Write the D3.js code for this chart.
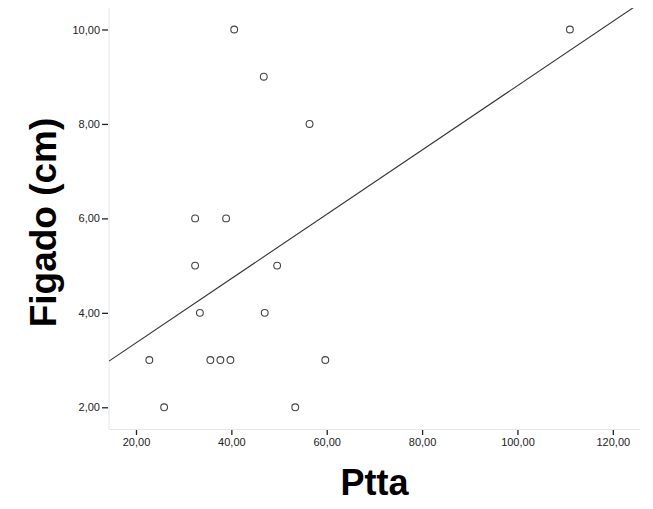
<!DOCTYPE html>
<html>
<head>
<meta charset="utf-8">
<script src="https://cdn.jsdelivr.net/npm/d3@7"></script>
<style>
  html, body { margin: 0; padding: 0; background: #fff; }
  svg { display: block; }
</style>
</head>
<body>
<svg id="chart" width="653" height="509"></svg>
<script>
// Ptta vs Figado (cm) observations
const ptta   = [22.8, 25.9, 33.4, 35.6, 37.7, 39.8, 47.0, 59.7, 53.4, 32.4, 32.4, 38.9, 40.6, 46.8, 56.4, 49.6, 111.0];
const figado = [3,    2,    4,    3,    3,    3,    4,    3,    2,    6,    5,    6,    10,   9,    8,    5,    10];
const xTicks = [20, 40, 60, 80, 100, 120];
const yTicks = [2, 4, 6, 8, 10];

const svg = d3.select("#chart");
const plotLeft = 109, plotRight = 640, plotTop = 8, plotBottom = 429;

const x = d3.scaleLinear().domain([14.34, 125.7]).range([plotLeft, plotRight]);
const y = d3.scaleLinear().domain([1.54, 10.455]).range([plotBottom, plotTop]);
const fmt = v => d3.format(".2f")(v).replace(".", ",");
const font = "'Liberation Sans', Arial, sans-serif";

// light frame lines on left and bottom
svg.append("line").attr("x1", plotLeft).attr("x2", plotLeft).attr("y1", plotTop).attr("y2", plotBottom)
  .attr("stroke", "#e6e6e6").attr("stroke-width", 1);
svg.append("line").attr("x1", plotLeft).attr("x2", plotRight).attr("y1", plotBottom + 0.5).attr("y2", plotBottom + 0.5)
  .attr("stroke", "#e6e6e6").attr("stroke-width", 1);

// axes
const xAxis = d3.axisBottom(x).tickValues(xTicks).tickSize(5).tickPadding(3).tickFormat(fmt);
const yAxis = d3.axisLeft(y).tickValues(yTicks).tickSize(6).tickPadding(2).tickFormat(fmt);

const gx = svg.append("g").attr("transform", `translate(0,${plotBottom + 1})`).call(xAxis);
const gy = svg.append("g").attr("transform", `translate(${plotLeft - 1},0)`).call(yAxis);
[gx, gy].forEach(g => {
  g.select(".domain").remove();
  g.selectAll(".tick line").attr("stroke", "#222").attr("stroke-width", 1.3);
  g.selectAll(".tick text").attr("fill", "#222").style("font-family", font).style("font-size", "11px");
});

// least-squares fit line, clipped to the plot area
const mx = d3.mean(ptta), my = d3.mean(figado);
const sxy = d3.sum(ptta, (v, i) => (v - mx) * (figado[i] - my));
const sxx = d3.sum(ptta, v => (v - mx) ** 2);
const b = sxy / sxx, a = my - b * mx;

svg.append("clipPath").attr("id", "plot-clip")
  .append("rect").attr("x", plotLeft).attr("y", plotTop)
  .attr("width", plotRight - plotLeft).attr("height", plotBottom - plotTop);

const [x0, x1] = x.domain();
svg.append("line")
  .attr("clip-path", "url(#plot-clip)")
  .attr("x1", x(x0)).attr("y1", y(a + b * x0))
  .attr("x2", x(x1)).attr("y2", y(a + b * x1))
  .attr("stroke", "#333").attr("stroke-width", 1.1);

// points
svg.append("g").selectAll("circle")
  .data(ptta.map((v, i) => [v, figado[i]]))
  .join("circle")
  .attr("cx", d => x(d[0])).attr("cy", d => y(d[1]))
  .attr("r", 3.4)
  .attr("fill", "#fff").attr("stroke", "#444").attr("stroke-width", 1.1);

// axis titles
svg.append("text")
  .attr("x", (plotLeft + plotRight) / 2).attr("y", 495)
  .attr("text-anchor", "middle")
  .style("font-family", font).style("font-weight", "bold").style("font-size", "36px")
  .text("Ptta");

svg.append("text")
  .attr("transform", `translate(56,${(plotTop + plotBottom) / 2 + 4}) rotate(-90)`)
  .attr("text-anchor", "middle")
  .style("font-family", font).style("font-weight", "bold").style("font-size", "37px")
  .text("Figado (cm)");
</script>
</body>
</html>
